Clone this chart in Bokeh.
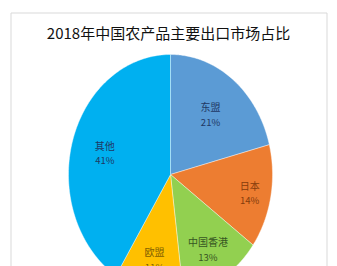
import numpy as np
from bokeh.plotting import figure
from bokeh.models import Range1d
from bokeh.core.properties import value
from bokeh.embed import file_html
from bokeh.resources import INLINE

# 2018 China agricultural exports by destination market (share, %)
markets = ["东盟", "日本", "中国香港", "欧盟", "其他"]
shares = [21, 14, 13, 11, 41]
fill_colors = ["#5B9BD5", "#ED7D31", "#92D050", "#FFC000", "#00B0F0"]
label_colors = ["#1F3864", "#843C0C", "#375623", "#7F6000", "#1F3864"]
title_text = "2018年中国农产品主要出口市场占比"

W, H = 337, 266
cx, cy = 170, 174          # pie centre (screen px, y downward)
rx, ry = 102, 120          # pie radii
label_frac = [0.64, 0.79, 0.72, 0.72, 0.67]

p = figure(width=W, height=H, output_backend="svg", toolbar_location=None,
           x_range=Range1d(0, W), y_range=Range1d(H, 0),
           min_border=0, background_fill_color="white", border_fill_color="white")
p.axis.visible = False
p.grid.visible = False
p.outline_line_color = None

# chart frame
p.quad(left=[10.5], right=[326.5], top=[12.5], bottom=[H + 5],
       fill_color=None, line_color="#D9D9D9", line_width=1)

# slices, clockwise from 12 o'clock
total = float(sum(shares))
cum = np.concatenate([[0.0], np.cumsum(shares)]) / total * 2 * np.pi
xs, ys = [], []
for a0, a1 in zip(cum[:-1], cum[1:]):
    t = np.linspace(a0, a1, 120)
    xs.append(np.concatenate([[cx], cx + rx * np.sin(t), [cx]]).tolist())
    ys.append(np.concatenate([[cy], cy - ry * np.cos(t), [cy]]).tolist())
p.patches(xs, ys, fill_color=fill_colors, line_color="white", line_width=0.4)

# slice labels: name and percentage
mid = (cum[:-1] + cum[1:]) / 2
lx = cx + rx * np.array(label_frac) * np.sin(mid)
ly = cy - ry * np.array(label_frac) * np.cos(mid)
pct = [f"{s}%" for s in shares]
p.text(x=lx, y=ly - 7, text=markets, text_color=label_colors,
       text_font=value("Noto Sans CJK SC"), text_font_size="10px",
       text_align="center", text_baseline="middle")
p.text(x=lx, y=ly + 8, text=pct, text_color=label_colors,
       text_font=value("Noto Sans CJK SC"), text_font_size="9.5px",
       text_align="center", text_baseline="middle")

# title
p.text(x=[168], y=[32], text=[title_text], text_color="#111111",
       text_font=value("Noto Sans CJK SC"), text_font_size="15px",
       text_align="center", text_baseline="middle")

open("out.html", "w").write(file_html(p, INLINE))
